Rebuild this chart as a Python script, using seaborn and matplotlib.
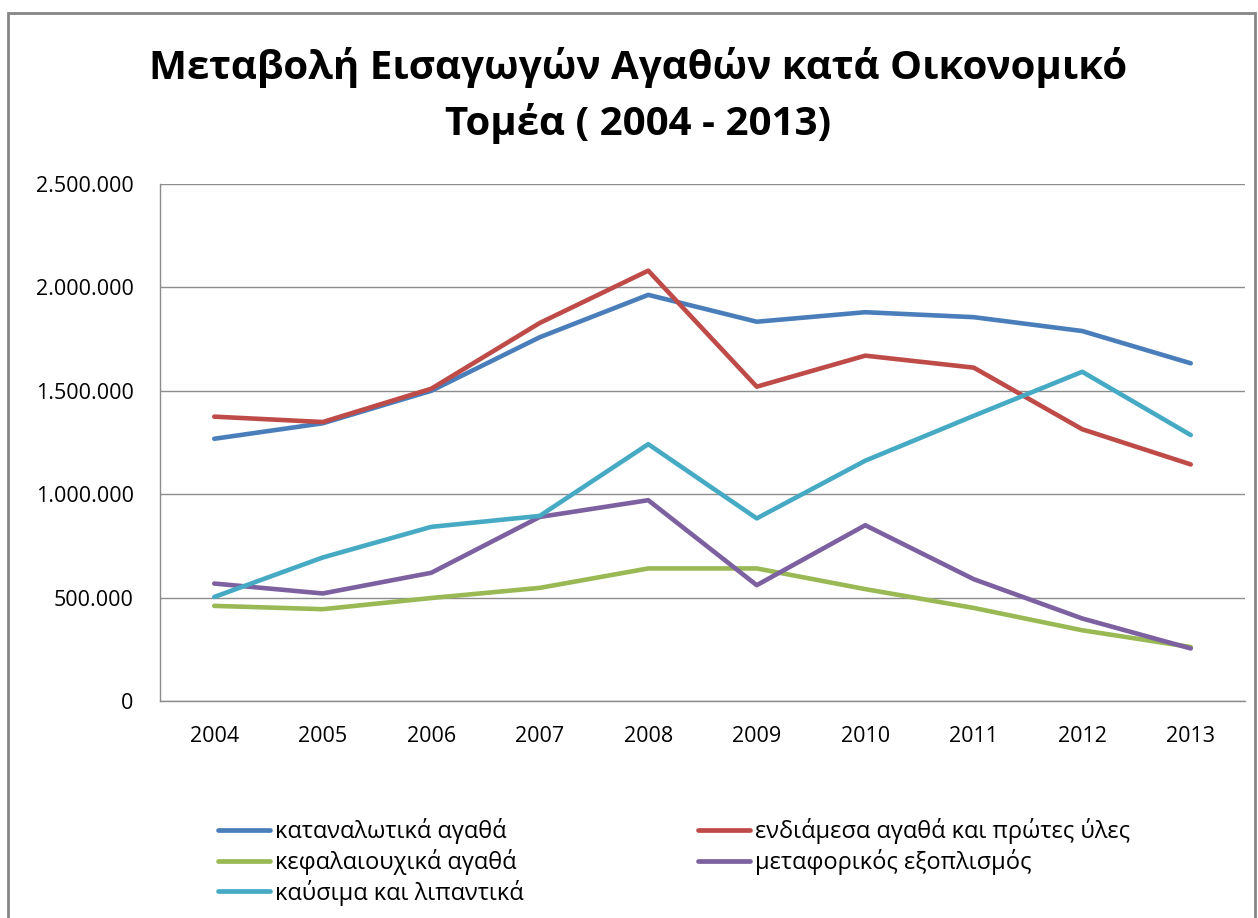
import matplotlib
matplotlib.use("Agg")
import matplotlib.pyplot as plt
import matplotlib.ticker as mticker
from matplotlib.patches import Rectangle
import seaborn as sns
import pandas as pd

years = ["2004", "2005", "2006", "2007", "2008", "2009", "2010", "2011", "2012", "2013"]
series_names = [
    "καταναλωτικά αγαθά",
    "ενδιάμεσα αγαθά και πρώτες ύλες",
    "κεφαλαιουχικά αγαθά",
    "μεταφορικός εξοπλισμός",
    "καύσιμα και λιπαντικά",
]
consumer = [1268000, 1343000, 1500000, 1759000, 1964000, 1834000, 1880000, 1856000, 1789000, 1633000]
intermediate = [1375000, 1349000, 1510000, 1828000, 2081000, 1520000, 1670000, 1612000, 1314000, 1144000]
capital = [460000, 444000, 498000, 547000, 641000, 641000, 541000, 450000, 342000, 261000]
transport = [568000, 520000, 620000, 890000, 971000, 560000, 850000, 589000, 399000, 254000]
fuels = [503000, 694000, 842000, 895000, 1242000, 883000, 1162000, 1379000, 1592000, 1286000]
colors = ["#4A7EBB", "#BE4B48", "#98B954", "#7D60A0", "#46AAC5"]

values = [consumer, intermediate, capital, transport, fuels]
rows = []
for name, vals in zip(series_names, values):
    for i, (y, v) in enumerate(zip(years, vals)):
        rows.append({"pos": i, "year": y, "value": v, "series": name})
df = pd.DataFrame(rows)

sns.set_theme(style="white")
plt.rcParams["font.family"] = ["Open Sans", "DejaVu Sans"]
plt.rcParams["text.color"] = "black"

fig = plt.figure(figsize=(12.58, 9.18), dpi=100)
ax = fig.add_axes([160 / 1258, 1 - 701 / 918, (1245 - 160) / 1258, (701 - 184) / 918])

sns.lineplot(data=df, x="pos", y="value", hue="series", hue_order=series_names,
             palette=colors, linewidth=3.3, ax=ax, legend=False, sort=False)

ax.set_xlim(-0.5, 9.5)
ax.set_ylim(0, 2500000)
ax.set_yticks([0, 500000, 1000000, 1500000, 2000000, 2500000])
ax.yaxis.set_major_formatter(mticker.FuncFormatter(lambda v, p: f"{int(v):,}".replace(",", ".")))
ax.set_xticks(range(10))
ax.set_xticklabels(years)
ax.xaxis.set_minor_locator(mticker.FixedLocator([i - 0.5 for i in range(11)]))
ax.tick_params(axis="x", which="major", length=0, pad=18, labelsize=15.5, labelcolor="black")
ax.tick_params(axis="x", which="minor", length=6, width=1, color="#8C8C8C", direction="out")
ax.tick_params(axis="y", which="major", length=7, width=1, color="#8C8C8C", direction="out",
               pad=12, labelsize=15.5, labelcolor="black")
ax.set_xlabel("")
ax.set_ylabel("")
ax.grid(axis="y", color="#8C8C8C", linewidth=1.0)
ax.grid(axis="x", visible=False)
ax.set_axisbelow(True)
for s in ["top", "right"]:
    ax.spines[s].set_visible(False)
for s in ["left", "bottom"]:
    ax.spines[s].set_color("#8C8C8C")
    ax.spines[s].set_linewidth(1.0)

fig.text(0.507, 1 - 68 / 918, "Μεταβολή Εισαγωγών Αγαθών κατά Οικονομικό", ha="center", va="center",
         fontsize=29, fontweight="bold", color="black")
fig.text(0.507, 1 - 124 / 918, "Τομέα ( 2004 - 2013)", ha="center", va="center",
         fontsize=29, fontweight="bold", color="black")

handles = {name: plt.Line2D([], [], color=c, linewidth=3.4) for name, c in zip(series_names, colors)}
order = [series_names[0], series_names[2], series_names[4], series_names[1], series_names[3]]
leg = fig.legend([handles[n] for n in order], order, ncol=2, loc="upper left",
                 bbox_to_anchor=(197 / 1258, 1 - 797 / 918), frameon=False, fontsize=17,
                 handlelength=2.2, handletextpad=0.2, columnspacing=7.4, labelspacing=0.2)
for t in leg.get_texts():
    t.set_color("black")

fig.add_artist(Rectangle((8 / 1258, -0.05), (1255 - 8) / 1258, 1 - 13 / 918 + 0.05,
                         transform=fig.transFigure, fill=False, edgecolor="#868686", linewidth=2.0))

fig.savefig("out.png", dpi=100)
